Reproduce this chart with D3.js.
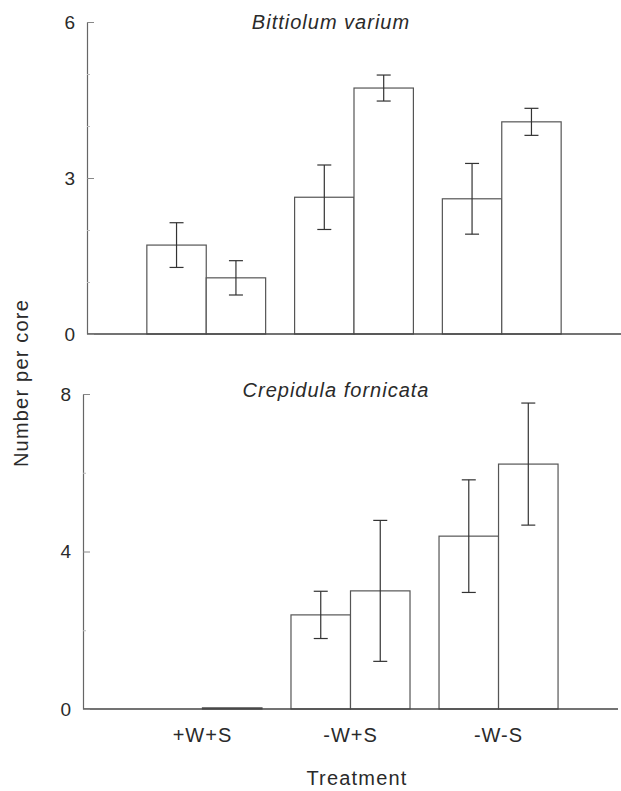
<!DOCTYPE html>
<html>
<head>
<meta charset="utf-8">
<script src="https://cdn.jsdelivr.net/npm/d3@7"></script>
<style>
    body { margin: 0; background: #fff; }
    text { font-family: "Liberation Sans", Arial, sans-serif; fill: #2a2a2a; }
</style>
</head>
<body>
<div id="chart"></div>
<script>

// treatments on the x axis
const categories = ["+W+S", "-W+S", "-W-S"];

// Bittiolum varium: two bars per treatment, mean and SE
const bittiolumMean = [[1.71, 1.08], [2.63, 4.73], [2.60, 4.08]];
const bittiolumSE   = [[0.43, 0.33], [0.62, 0.25], [0.68, 0.26]];

// Crepidula fornicata
const crepidulaMean = [[0, 0.03], [2.39, 3.00], [4.39, 6.22]];
const crepidulaSE   = [[0, 0], [0.60, 1.79], [1.43, 1.55]];

const topTicks = [0, 3, 6];
const topMinor = [1, 2, 4, 5];
const bottomTicks = [0, 4, 8];
const bottomMinor = [2, 6];

const width = 621, height = 791;

let svg = d3.select("#chart").append("svg")
    .attr("width", width)
    .attr("height", height);

function drawPanel(opts) {
    let g = svg.append("g");

    let x = d3.scaleBand()
        .domain(categories)
        .range(opts.xRange)
        .paddingInner(0.196)
        .paddingOuter(0.405);

    let xSub = d3.scaleBand()
        .domain([0, 1])
        .range([0, x.bandwidth()]);

    let y = d3.scaleLinear()
        .domain(opts.yDomain)
        .range(opts.yRange);

    // flatten into bars
    let bars = [];
    categories.forEach((c, i) => {
        opts.mean[i].forEach((m, j) => {
            bars.push({cat: c, sub: j, mean: m, se: opts.se[i][j]});
        });
    });

    // bars
    g.selectAll(".bar")
        .data(bars.filter(d => d.mean > 0))
        .enter()
        .append("rect")
        .attr("class", "bar")
        .attr("x", d => x(d.cat) + xSub(d.sub))
        .attr("y", d => y(d.mean))
        .attr("width", xSub.bandwidth())
        .attr("height", d => y(0) - y(d.mean))
        .attr("fill", "white")
        .attr("stroke", "#555")
        .attr("stroke-width", 1.2);

    // error bars
    let err = g.selectAll(".err")
        .data(bars.filter(d => d.se > 0))
        .enter()
        .append("g")
        .attr("class", "err")
        .attr("transform", d => `translate(${x(d.cat) + xSub(d.sub) + xSub.bandwidth() / 2},0)`);

    err.append("line")
        .attr("y1", d => y(d.mean - d.se))
        .attr("y2", d => y(d.mean + d.se))
        .attr("stroke", "#333")
        .attr("stroke-width", 1.2);

    err.selectAll(".cap")
        .data(d => [d.mean - d.se, d.mean + d.se])
        .enter()
        .append("line")
        .attr("class", "cap")
        .attr("x1", -7)
        .attr("x2", 7)
        .attr("y1", v => y(v))
        .attr("y2", v => y(v))
        .attr("stroke", "#333")
        .attr("stroke-width", 1.2);

    // baseline
    g.append("line")
        .attr("x1", opts.xRange[0])
        .attr("x2", opts.xRange[1])
        .attr("y1", y(0))
        .attr("y2", y(0))
        .attr("stroke", "#444")
        .attr("stroke-width", 1.5);

    // y axis, ticks pointing inward
    let yAxis = d3.axisLeft(y)
        .tickValues(opts.ticks)
        .tickFormat(d3.format("d"))
        .tickSizeInner(-7)
        .tickSizeOuter(0)
        .tickPadding(12);

    let ya = g.append("g")
        .attr("transform", `translate(${opts.xRange[0]},0)`)
        .call(yAxis);
    ya.select(".domain").attr("stroke", "#666").attr("stroke-width", 1.2);
    ya.selectAll(".tick line").attr("stroke", "#888");
    ya.selectAll(".tick text")
        .style("font-size", "19px")
        .attr("fill", "#2a2a2a");

    let minor = g.append("g")
        .attr("transform", `translate(${opts.xRange[0]},0)`)
        .call(d3.axisLeft(y).tickValues(opts.minor).tickSize(-3).tickFormat(""));
    minor.select(".domain").remove();
    minor.selectAll(".tick line").attr("stroke", "#bbb");

    // species name
    g.append("text")
        .attr("x", opts.titleX)
        .attr("y", opts.titleY)
        .attr("text-anchor", "middle")
        .style("font-size", "20px")
        .style("font-style", "italic")
        .style("letter-spacing", "1px")
        .text(opts.title);

    return {g, x, y};
}

drawPanel({
    xRange: [87, 621],
    yDomain: [0, 6],
    yRange: [334, 22],
    mean: bittiolumMean,
    se: bittiolumSE,
    ticks: topTicks,
    minor: topMinor,
    title: "Bittiolum varium",
    titleX: 331,
    titleY: 29
});

let bottom = drawPanel({
    xRange: [83, 618],
    yDomain: [0, 8],
    yRange: [709, 394],
    mean: crepidulaMean,
    se: crepidulaSE,
    ticks: bottomTicks,
    minor: bottomMinor,
    title: "Crepidula fornicata",
    titleX: 336,
    titleY: 397
});

// treatment labels under the bottom panel
let xa = bottom.g.append("g")
    .attr("transform", `translate(0,${bottom.y(0)})`)
    .call(d3.axisBottom(bottom.x).tickSize(0).tickPadding(19));
xa.select(".domain").remove();
xa.selectAll(".tick text")
    .style("font-size", "20px")
    .style("letter-spacing", "1px")
    .attr("fill", "#2a2a2a");

// axis titles
svg.append("text")
    .attr("transform", "translate(28,383) rotate(-90)")
    .attr("text-anchor", "middle")
    .style("font-size", "20px")
    .style("letter-spacing", "1.2px")
    .text("Number per core");

svg.append("text")
    .attr("x", 357)
    .attr("y", 785)
    .attr("text-anchor", "middle")
    .style("font-size", "20px")
    .style("letter-spacing", "1.2px")
    .text("Treatment");

</script>
</body>
</html>
